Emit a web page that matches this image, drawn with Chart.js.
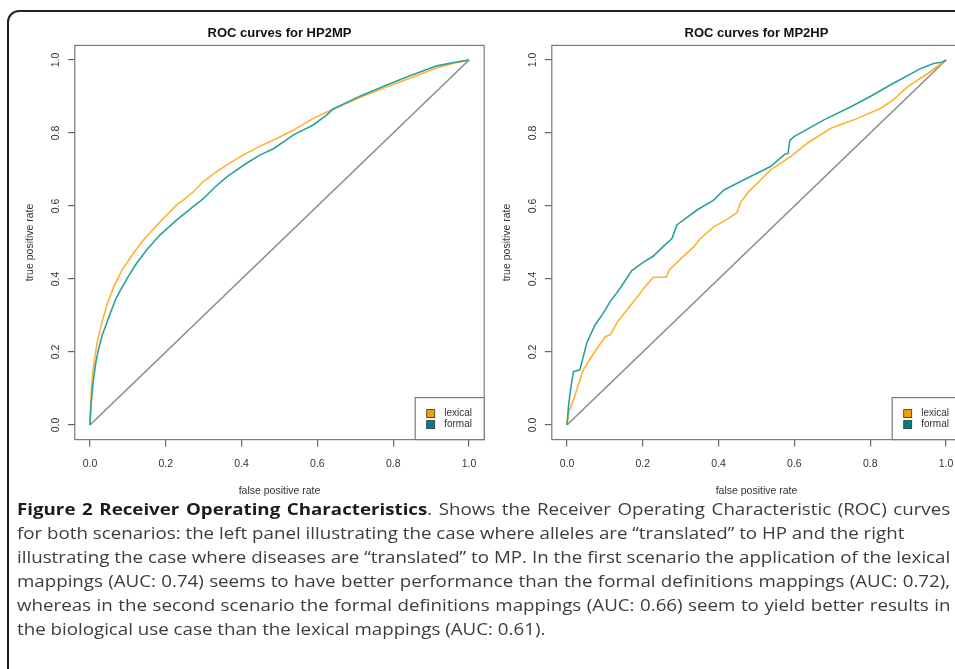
<!DOCTYPE html>
<html>
<head>
<meta charset="utf-8">
<script src="https://cdn.jsdelivr.net/npm/chart.js@4.4.0/dist/chart.umd.min.js"></script>
<style>
  html, body { margin: 0; padding: 0; width: 955px; height: 669px; overflow: hidden; background: #fff; }
  #frame { position: absolute; left: 7px; top: 10px; width: 1000px; height: 700px; border: 2px solid #222; border-radius: 12px; }
  .plot { position: absolute; top: 0; }
  #caption { position: absolute; left: 17px; top: 497px; width: 820px; font-family: "Open Sans"; font-size: 16.3px; color: #3c3c3c; line-height: 24px; transform: scaleX(1.15); transform-origin: 0 0; }
  #caption div { white-space: nowrap; }
  #caption b { color: #1c1c1c; }
</style>
</head>
<body>
<div id="frame"></div>
<canvas id="left" class="plot" width="500" height="500" style="left:0px"></canvas>
<canvas id="right" class="plot" width="500" height="500" style="left:477px"></canvas>
<div id="caption">
  <div class="j"><span><b>Figure 2 Receiver Operating Characteristics</b>. Shows the Receiver Operating Characteristic (ROC) curves</span></div>
  <div><span>for both scenarios: the left panel illustrating the case where alleles are “translated” to HP and the right</span></div>
  <div class="j"><span>illustrating the case where diseases are “translated” to MP. In the first scenario the application of the lexical</span></div>
  <div class="j"><span>mappings (AUC: 0.74) seems to have better performance than the formal definitions mappings (AUC: 0.72),</span></div>
  <div class="j"><span>whereas in the second scenario the formal definitions mappings (AUC: 0.66) seem to yield better results in</span></div>
  <div><span>the biological use case than the lexical mappings (AUC: 0.61).</span></div>
</div>
<script>
// axis ticks, same for both panels
const axisTicks = [0, 0.2, 0.4, 0.6, 0.8, 1.0];
const seriesNames = ["lexical", "formal"];
const chanceLine = [0, 1];

// HP2MP (left panel)
const hp2mpLexicalFpr = [0, 0.002, 0.004, 0.008, 0.013, 0.020, 0.031, 0.045, 0.062, 0.085, 0.114, 0.141, 0.185, 0.229, 0.246, 0.273, 0.299, 0.334, 0.370, 0.405, 0.449, 0.493, 0.537, 0.589, 0.642, 0.712, 0.780, 0.844, 0.915, 0.960, 1];
const hp2mpLexicalTpr = [0, 0.060, 0.105, 0.150, 0.187, 0.232, 0.279, 0.330, 0.377, 0.425, 0.470, 0.507, 0.557, 0.603, 0.616, 0.639, 0.667, 0.694, 0.718, 0.740, 0.764, 0.785, 0.808, 0.840, 0.866, 0.897, 0.925, 0.950, 0.979, 0.991, 1];
const hp2mpFormalFpr = [0, 0.003, 0.009, 0.015, 0.022, 0.032, 0.044, 0.055, 0.068, 0.083, 0.100, 0.123, 0.150, 0.185, 0.229, 0.265, 0.299, 0.330, 0.361, 0.413, 0.449, 0.484, 0.537, 0.589, 0.624, 0.642, 0.712, 0.780, 0.844, 0.915, 0.960, 1];
const hp2mpFormalTpr = [0, 0.060, 0.123, 0.168, 0.205, 0.245, 0.279, 0.310, 0.345, 0.374, 0.405, 0.443, 0.480, 0.521, 0.562, 0.592, 0.620, 0.652, 0.680, 0.717, 0.740, 0.757, 0.795, 0.822, 0.849, 0.866, 0.901, 0.930, 0.957, 0.984, 0.993, 1];

// MP2HP (right panel)
const mp2hpLexicalFpr = [0, 0.006, 0.017, 0.030, 0.043, 0.070, 0.101, 0.114, 0.135, 0.158, 0.193, 0.202, 0.228, 0.262, 0.270, 0.300, 0.334, 0.352, 0.387, 0.420, 0.449, 0.458, 0.480, 0.502, 0.537, 0.590, 0.634, 0.696, 0.757, 0.828, 0.860, 0.899, 0.952, 1];
const mp2hpLexicalTpr = [0, 0.040, 0.068, 0.110, 0.151, 0.196, 0.242, 0.247, 0.285, 0.315, 0.361, 0.374, 0.405, 0.405, 0.425, 0.455, 0.488, 0.511, 0.543, 0.562, 0.582, 0.610, 0.640, 0.662, 0.699, 0.735, 0.772, 0.813, 0.836, 0.868, 0.890, 0.927, 0.963, 1];
const mp2hpFormalFpr = [0, 0.004, 0.008, 0.017, 0.034, 0.052, 0.074, 0.095, 0.114, 0.140, 0.171, 0.200, 0.228, 0.255, 0.277, 0.290, 0.343, 0.387, 0.414, 0.475, 0.537, 0.575, 0.583, 0.588, 0.599, 0.678, 0.749, 0.800, 0.854, 0.934, 0.969, 0.990, 1];
const mp2hpFormalTpr = [0, 0.050, 0.087, 0.146, 0.151, 0.224, 0.274, 0.305, 0.338, 0.374, 0.423, 0.445, 0.463, 0.490, 0.511, 0.548, 0.589, 0.616, 0.644, 0.676, 0.708, 0.742, 0.744, 0.780, 0.790, 0.836, 0.872, 0.900, 0.932, 0.977, 0.991, 0.994, 1];

const lineColors = ["#FFB230", "#2AA19D"];
const keyColors = ["#F0A000", "#00807E"];
const axisFont = { family: "Liberation Sans", size: 10.5 };

function pts(xs, ys) {
  return xs.map((x, i) => ({ x: x, y: ys[i] }));
}

// box round the plot region, like R's bty="o"
const boxPlugin = {
  id: "box",
  afterDraw(chart) {
    const a = chart.chartArea, ctx = chart.ctx;
    ctx.save();
    ctx.strokeStyle = "#7a7a7a";
    ctx.lineWidth = 1.2;
    ctx.strokeRect(a.left, a.top, a.right - a.left, a.bottom - a.top);
    ctx.restore();
  }
};

// y tick labels turned to read upwards
const yLabelPlugin = {
  id: "ylabels",
  afterDraw(chart) {
    const s = chart.scales.y, ctx = chart.ctx;
    ctx.save();
    ctx.font = axisFont.size + "px " + axisFont.family;
    ctx.fillStyle = "#333";
    ctx.textAlign = "center";
    ctx.textBaseline = "middle";
    s.ticks.forEach(t => {
      ctx.save();
      ctx.translate(56, s.getPixelForValue(t.value));
      ctx.rotate(-Math.PI / 2);
      ctx.fillText(t.value.toFixed(1), 0, 0);
      ctx.restore();
    });
    ctx.restore();
  }
};

// legend box in the bottom right corner of the plot
const keyPlugin = {
  id: "key",
  afterDraw(chart) {
    const a = chart.chartArea, ctx = chart.ctx;
    const w = 69, h = 42;
    const bx = a.right - w, by = a.bottom - h;
    ctx.save();
    ctx.fillStyle = "#fff";
    ctx.fillRect(bx, by, w, h);
    ctx.strokeStyle = "#7a7a7a";
    ctx.lineWidth = 1.2;
    ctx.strokeRect(bx, by, w, h);
    ctx.font = "10px Liberation Sans";
    ctx.textBaseline = "middle";
    seriesNames.forEach((name, i) => {
      const cy = by + 16 + i * 11;
      ctx.fillStyle = keyColors[i];
      ctx.fillRect(bx + 11.5, cy - 4, 8, 8);
      ctx.strokeStyle = "#333";
      ctx.lineWidth = 0.8;
      ctx.strokeRect(bx + 11.5, cy - 4, 8, 8);
      ctx.fillStyle = "#333";
      ctx.fillText(name, bx + 29, cy);
    });
    ctx.restore();
  }
};

function makeChart(id, title, lexFpr, lexTpr, formFpr, formTpr) {
  const axis = (titleText, isX) => ({
    type: "linear",
    min: -0.04,
    max: 1.04,
    afterBuildTicks: s => { s.ticks = axisTicks.map(v => ({ value: v })); },
    ticks: {
      display: isX,
      callback: v => v.toFixed(1),
      font: axisFont,
      color: "#333",
      padding: 11,
      maxRotation: 0,
      autoSkip: false
    },
    grid: { drawOnChartArea: false, drawTicks: true, tickLength: 7, color: "#666", tickColor: "#666", lineWidth: 1.2 },
    border: { display: false },
    title: {
      display: true,
      text: titleText,
      font: axisFont,
      color: "#333",
      padding: isX ? { top: 0, bottom: 2.4 } : { top: 23.4, bottom: 0 }
    },
    afterFit: s => {
      if (isX) s.height = 60.4; else s.width = 74.8;
    }
  });

  return new Chart(document.getElementById(id), {
    type: "line",
    data: {
      datasets: [
        { label: seriesNames[0], data: pts(lexFpr, lexTpr), borderColor: lineColors[0], borderWidth: 1.6, order: 2 },
        { label: seriesNames[1], data: pts(formFpr, formTpr), borderColor: lineColors[1], borderWidth: 1.6, order: 1 },
        { label: "chance", data: pts(chanceLine, chanceLine), borderColor: "#8c8c8c", borderWidth: 1.6, order: 3 }
      ]
    },
    options: {
      responsive: false,
      animation: false,
      events: [],
      elements: { point: { radius: 0 }, line: { tension: 0, fill: false } },
      layout: { padding: { left: 0, right: 15.8, top: 0, bottom: 0 } },
      scales: {
        x: axis("false positive rate", true),
        y: axis("true positive rate", false)
      },
      plugins: {
        legend: { display: false },
        tooltip: { enabled: false },
        title: {
          display: true,
          text: title,
          fullSize: false,
          font: { family: "Liberation Sans", size: 13, weight: "bold" },
          color: "#111",
          padding: { top: 25.2, bottom: 4.6 }
        }
      }
    },
    plugins: [boxPlugin, yLabelPlugin, keyPlugin]
  });
}

makeChart("left", "ROC curves for HP2MP", hp2mpLexicalFpr, hp2mpLexicalTpr, hp2mpFormalFpr, hp2mpFormalTpr);
makeChart("right", "ROC curves for MP2HP", mp2hpLexicalFpr, mp2hpLexicalTpr, mp2hpFormalFpr, mp2hpFormalTpr);

// caption: the figure is stretched sideways, so the lines are justified by hand
const capScale = 1.15, capWidth = 933;
document.querySelectorAll("#caption .j").forEach(div => {
  const span = div.firstElementChild;
  const gaps = span.textContent.split(" ").length - 1;
  const ws = (capWidth / capScale - span.offsetWidth) / gaps;
  div.style.wordSpacing = ws + "px";
});
</script>
</body>
</html>
